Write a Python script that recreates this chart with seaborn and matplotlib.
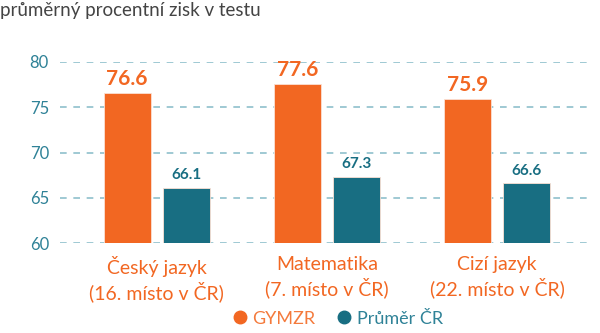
import matplotlib
matplotlib.use("Agg")
import matplotlib.pyplot as plt
from matplotlib.lines import Line2D
import seaborn as sns
import pandas as pd

subjects = ["Český jazyk\n(16. místo v ČR)", "Matematika\n(7. místo v ČR)", "Cizí jazyk\n(22. místo v ČR)"]
gymzr = [76.6, 77.6, 75.9]
prumer_cr = [66.1, 67.3, 66.6]
series = ["GYMZR", "Průměr ČR"]
yticks = [60, 65, 70, 75, 80]

ORANGE = "#f26722"
TEAL = "#186e82"
TICK = "#2f8297"
GRID = "#8fc0cc"

df = pd.DataFrame({
    "subject": subjects * 2,
    "series": [series[0]] * 3 + [series[1]] * 3,
    "value": gymzr + prumer_cr,
})

sns.set_theme(style="white")
plt.rcParams["font.family"] = ["Lato", "DejaVu Sans"]

fig = plt.figure(figsize=(6, 3.33), dpi=100)
ax = fig.add_axes([0.1, 0.27, 0.887, 0.544])

sns.barplot(data=df, x="subject", y="value", hue="series",
            palette=[ORANGE, TEAL], saturation=1, width=0.7, gap=0.21,
            edgecolor="#fbe0d4", linewidth=0.6, legend=False, ax=ax, zorder=3)

ax.set_ylim(60, 80)
ax.set_xlim(-0.57, 2.56)
ax.set_yticks(yticks)
ax.set_yticklabels([str(t) for t in yticks], color=TICK, fontsize=12)
ax.tick_params(axis="y", length=0, pad=8)
ax.tick_params(axis="x", length=0, pad=9)
for lbl in ax.get_xticklabels():
    lbl.set_color(ORANGE)
    lbl.set_fontsize(14)
    lbl.set_linespacing(1.25)
ax.set_xlabel("")
ax.set_ylabel("")
for s in ax.spines.values():
    s.set_visible(False)
ax.yaxis.grid(True, color=GRID, linestyle=(0, (4, 4)), linewidth=1.2, zorder=0)
ax.set_axisbelow(True)

# value labels above each bar
cont_g, cont_p = ax.containers
ax.bar_label(cont_g, labels=[f"{v:.1f}" for v in gymzr], padding=3,
             color=ORANGE, fontsize=15, fontweight="bold")
ax.bar_label(cont_p, labels=[f"{v:.1f}" for v in prumer_cr], padding=4,
             color=TEAL, fontsize=11, fontweight="bold")

fig.text(0.0, 0.995, "průměrný procentní zisk v testu", ha="left", va="top",
         fontsize=13.5, color="#444444")

handles = [Line2D([], [], marker="o", linestyle="", markersize=9, color=c) for c in (ORANGE, TEAL)]
leg = fig.legend(handles, series, loc="lower center", bbox_to_anchor=(0.563, -0.03),
                 ncol=2, frameon=False, fontsize=13, handlelength=0.8,
                 handletextpad=0.3, columnspacing=1.2)
for txt, c in zip(leg.get_texts(), ("#f47a3c", TICK)):
    txt.set_color(c)

fig.savefig("out.png", dpi=100)
